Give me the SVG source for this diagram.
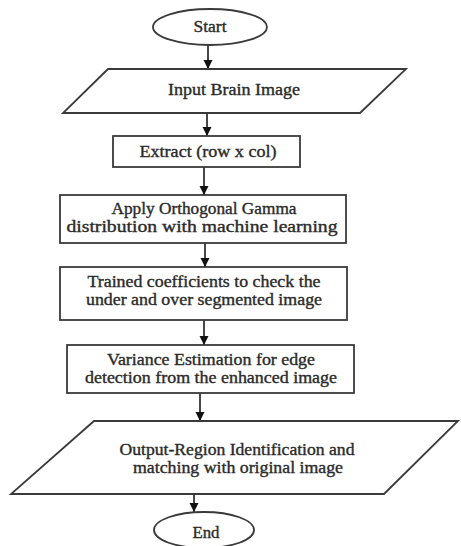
<svg xmlns="http://www.w3.org/2000/svg" width="461" height="546" viewBox="0 0 461 546">
<defs>
<marker id="arr" markerWidth="9" markerHeight="10" refX="10" refY="5" orient="auto" markerUnits="userSpaceOnUse" viewBox="0 0 10 10">
<path d="M0,0 L10,5 L0,10 z" fill="#111"/>
</marker>
<style>
.s{fill:#fff;stroke:#3a3a3a;stroke-width:1.8}
.t{font-family:"Liberation Serif","Times New Roman",serif;font-size:16px;fill:#2a2a2a;stroke:#2a2a2a;stroke-width:0.35;text-anchor:middle}
.c{stroke:#1a1a1a;stroke-width:1.6;fill:none;marker-end:url(#arr)}
</style>
</defs>
<rect width="461" height="546" fill="#fff"/>
<g id="connectors">
<line class="c" x1="208" y1="45" x2="208" y2="69"/>
<line class="c" x1="207" y1="113" x2="207" y2="136"/>
<line class="c" x1="204" y1="167" x2="204" y2="195"/>
<line class="c" x1="205" y1="243" x2="205" y2="267"/>
<line class="c" x1="204" y1="320" x2="204" y2="345"/>
<line class="c" x1="200" y1="393" x2="200" y2="421"/>
<line class="c" x1="194" y1="494" x2="194" y2="512"/>
</g>
<g id="start">
<ellipse class="s" cx="210" cy="27" rx="57" ry="18"/>
<text class="t" x="210" y="32" textLength="33" lengthAdjust="spacingAndGlyphs">Start</text>
</g>
<g id="input">
<polygon class="s" points="108,69 406,69 360,113 63,113"/>
<text class="t" x="234" y="95" textLength="132" lengthAdjust="spacingAndGlyphs">Input Brain Image</text>
</g>
<g id="extract">
<rect class="s" x="113" y="136" width="187" height="31"/>
<text class="t" x="208" y="157" textLength="137" lengthAdjust="spacingAndGlyphs">Extract (row x col)</text>
</g>
<g id="apply">
<rect class="s" x="60" y="195" width="286" height="48"/>
<text class="t" x="204" y="213.5" textLength="185" lengthAdjust="spacingAndGlyphs">Apply Orthogonal Gamma</text>
<text class="t" x="202" y="231.5" textLength="271" lengthAdjust="spacingAndGlyphs">distribution with machine learning</text>
</g>
<g id="trained">
<rect class="s" x="60" y="267" width="287" height="53"/>
<text class="t" x="204" y="286.5" textLength="233" lengthAdjust="spacingAndGlyphs">Trained coefficients to check the</text>
<text class="t" x="204" y="304.5" textLength="236" lengthAdjust="spacingAndGlyphs">under and over segmented image</text>
</g>
<g id="variance">
<rect class="s" x="67" y="345" width="287" height="48"/>
<text class="t" x="211" y="364.5" textLength="208" lengthAdjust="spacingAndGlyphs">Variance Estimation for edge</text>
<text class="t" x="211" y="382.5" textLength="252" lengthAdjust="spacingAndGlyphs">detection from the enhanced image</text>
</g>
<g id="output">
<polygon class="s" points="94,421 458,421 384,494 11,494"/>
<text class="t" x="237" y="454.5" textLength="235" lengthAdjust="spacingAndGlyphs">Output-Region Identification and</text>
<text class="t" x="238" y="472.5" textLength="210" lengthAdjust="spacingAndGlyphs">matching with original image</text>
</g>
<g id="end">
<ellipse class="s" cx="204" cy="530" rx="50" ry="18"/>
<text class="t" x="206" y="538" textLength="27" lengthAdjust="spacingAndGlyphs">End</text>
</g>
</svg>
